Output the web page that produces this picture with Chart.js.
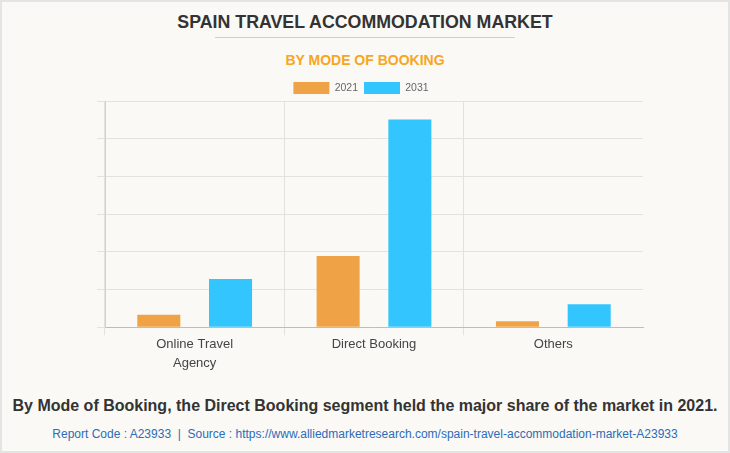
<!DOCTYPE html>
<html>
<head>
<meta charset="utf-8">
<script src="https://cdn.jsdelivr.net/npm/chart.js@4.4.0/dist/chart.umd.min.js"></script>
<style>
  html, body { margin: 0; padding: 0; }
  body { width: 730px; height: 453px; overflow: hidden; font-family: "Liberation Sans", Arial, sans-serif; }
  .frame { position: relative; width: 726px; height: 449px; border: 2px solid #e4e4e4; background: #faf9f5; }
  .title { position: absolute; top: 10px; left: 0; width: 726px; text-align: center; font-size: 17.8px; font-weight: bold; color: #333; }
  .rule { position: absolute; top: 35px; left: 213px; width: 300px; height: 1px; background: #cfcfcf; }
  .sub { position: absolute; top: 50px; left: 0; width: 726px; text-align: center; font-size: 14px; font-weight: bold; color: #f7a623; }
  .chartbox { position: absolute; top: 70px; left: -2px; width: 730px; height: 301px; }
  .note { position: absolute; top: 395px; left: 0; width: 726px; text-align: center; font-size: 16px; font-weight: bold; color: #333; }
  .src { position: absolute; top: 425px; left: 0; width: 726px; text-align: center; font-size: 12px; color: #2c6cb8; }
</style>
</head>
<body>
<div class="frame">
  <div class="title">SPAIN TRAVEL ACCOMMODATION MARKET</div>
  <div class="rule"></div>
  <div class="sub">BY MODE OF BOOKING</div>
  <div class="chartbox"><canvas id="chart"></canvas></div>
  <div class="note">By Mode of Booking, the Direct Booking segment held the major share of the market in 2021.</div>
  <div class="src">Report Code : A23933&nbsp; | &nbsp;Source : https://www.alliedmarketresearch.com/spain-travel-accommodation-market-A23933</div>
</div>
<script>
  // categories and values (axis has no labels, 0..6 grid)
  const categories = [['Online Travel', 'Agency'], 'Direct Booking', 'Others'];
  const years = ['2021', '2031'];
  const values2021 = [0.33, 1.89, 0.16];
  const values2031 = [1.28, 5.51, 0.61];

  // pull the plot closer to the legend, and nudge the legend a little left
  const legendTweak = {
    id: 'legendTweak',
    beforeInit(chart) {
      const lg = chart.legend;
      const fit = lg.fit;
      lg.fit = function () {
        fit.bind(lg)();
        this.height -= 3;
      };
      const draw = lg.draw;
      lg.draw = function () {
        const c = chart.ctx;
        c.save();
        c.translate(-9, 0);
        draw.bind(lg)();
        c.restore();
      };
    }
  };

  const ctx = document.getElementById('chart').getContext('2d');
  new Chart(ctx, {
    type: 'bar',
    data: {
      labels: categories,
      datasets: [{
        label: years[0],
        data: values2021,
        backgroundColor: '#f0a346'
      }, {
        label: years[1],
        data: values2031,
        backgroundColor: '#33c5fd'
      }]
    },
    options: {
      responsive: true,
      maintainAspectRatio: false,
      animation: false,
      layout: { padding: { left: 97, right: 87, top: 4, bottom: 0 } },
      datasets: { bar: { categoryPercentage: 0.8, barPercentage: 0.6 } },
      plugins: {
        legend: {
          labels: {
            boxWidth: 36,
            boxHeight: 12,
            padding: 6,
            color: '#666',
            font: { family: 'Liberation Sans', size: 10.5 }
          }
        },
        tooltip: { enabled: false }
      },
      scales: {
        x: {
          grid: {
            color: ctx => ctx.type === 'tick' ? '#e4e2dd' : 'transparent',
            tickLength: 8
          },
          border: { color: '#bdbdbd' },
          ticks: {
            color: '#444',
            padding: 0,
            font: { family: 'Liberation Sans', size: 13, lineHeight: 1.45 }
          }
        },
        y: {
          min: 0,
          max: 6,
          ticks: { display: false, stepSize: 1 },
          grid: { color: '#e4e2dd', tickLength: 8 },
          border: { color: '#d0d0d0' }
        }
      }
    },
    plugins: [legendTweak]
  });
</script>
</body>
</html>
